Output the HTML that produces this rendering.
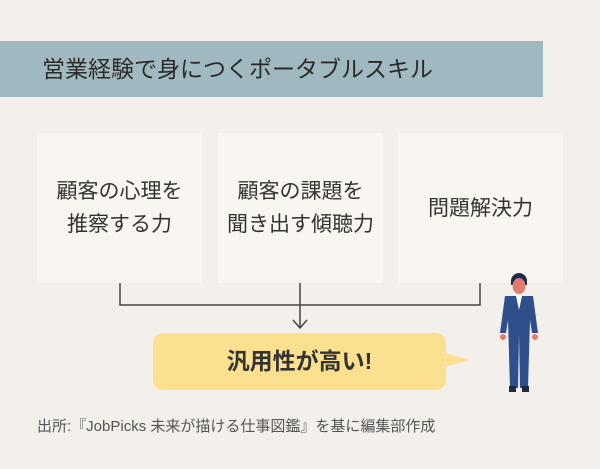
<!DOCTYPE html>
<html><head><meta charset="utf-8"><style>
*{margin:0;padding:0;box-sizing:border-box}
body{width:600px;height:469px;background:#f3efea;position:relative;overflow:hidden;font-family:"Liberation Sans","Noto Sans CJK JP",sans-serif;color:#333}
.banner{position:absolute;left:0;top:41px;width:543px;height:56px;background:#a0b8bf;font-size:23px;line-height:56px;padding-left:42px;color:#2b2b2b}
.box{position:absolute;top:133px;width:165px;height:150px;background:#f9f6f2;display:flex;align-items:center;justify-content:center;text-align:center;font-size:21px;line-height:33px;color:#333}
.bubble{position:absolute;left:153px;top:333px;width:293px;height:57px;background:#fbe08f;border-radius:10px;text-align:center;line-height:57px;font-size:23px;font-weight:bold;color:#333}
.foot{position:absolute;left:37px;top:415px;font-size:15px;color:#555}
</style></head><body>
<div class="banner">営業経験で身につくポータブルスキル</div>
<div class="box" style="left:37px">顧客の心理を<br>推察する力</div>
<div class="box" style="left:218px">顧客の課題を<br>聞き出す傾聴力</div>
<div class="box" style="left:398px">問題解決力</div>
<svg width="600" height="469" style="position:absolute;left:0;top:0">
<path d="M120 283V305H480V283M300 283V328M293 320L300 328L307 320" fill="none" stroke="#444" stroke-width="1.5"/>
<path d="M440 352L470 360L440 368Z" fill="#fbe08f"/>
<path d="M511 281a8 8 0 0 1 16 0v4h-16z" fill="#1e2a4a"/>
<ellipse cx="519" cy="286" rx="6.5" ry="8" fill="#e07c6e"/>
<path d="M505 296L533 296L538 333L532 333L530 320L528 388L520 388L519 334L518 388L510 388L508 320L506 333L500 333Z" fill="#2f4f8c"/>
<path d="M516 296L522 296L519 310Z" fill="#fff"/>
<circle cx="503" cy="337" r="3" fill="#e07c6e"/><circle cx="535" cy="337" r="3" fill="#e07c6e"/>
<rect x="509" y="386" width="7" height="6" fill="#1e2a4a"/><rect x="522" y="386" width="7" height="6" fill="#1e2a4a"/>
</svg>
<div class="bubble">汎用性が高い!</div>
<div class="foot">出所:『JobPicks 未来が描ける仕事図鑑』を基に編集部作成</div>
</body></html>
